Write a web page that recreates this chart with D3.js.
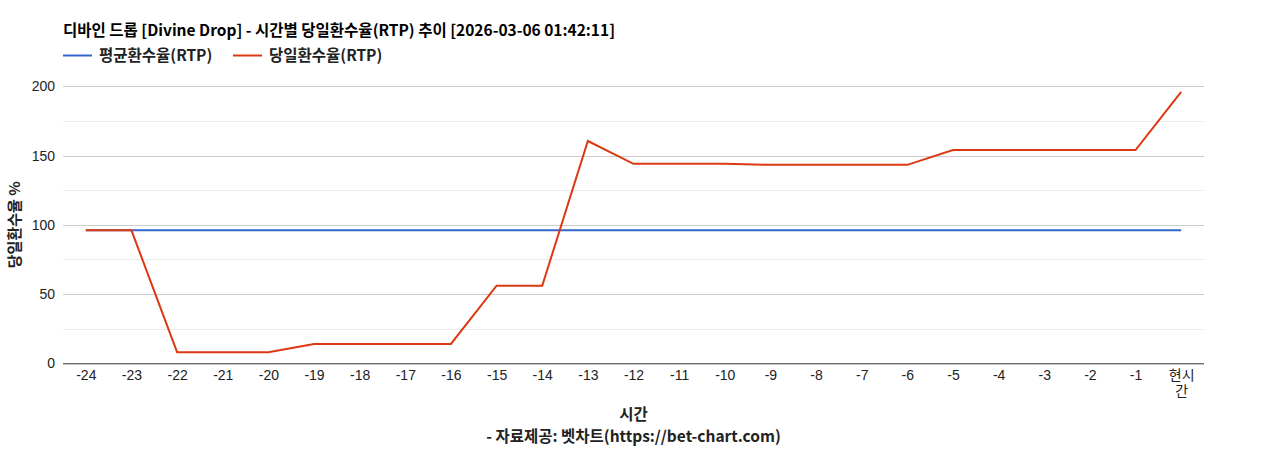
<!DOCTYPE html>
<html>
<head>
<meta charset="utf-8">
<script src="https://cdn.jsdelivr.net/npm/d3@7"></script>
<style>
  body { margin: 0; background: #fff; }
  text { font-family: Arial, "Liberation Sans", "Noto Sans CJK KR", sans-serif; }
  .bold { font-family: "Noto Sans CJK KR", sans-serif; font-weight: bold; }
</style>
</head>
<body>
<svg id="chart" width="1268" height="450"></svg>
<script>
// chart data
var hours = ['-24','-23','-22','-21','-20','-19','-18','-17','-16','-15','-14','-13',
             '-12','-11','-10','-9','-8','-7','-6','-5','-4','-3','-2','-1','현시간'];
var avgRtp = [96,96,96,96,96,96,96,96,96,96,96,96,96,96,96,96,96,96,96,96,96,96,96,96,96];
var dayRtp = [96,96,8,8,8,14,14,14,14,56,56,160.5,144,144,144,143.3,143.3,143.3,143.3,154,154,154,154,154,196];
var yTicks = [0,50,100,150,200];
var yMinor = [25,75,125,175];

var seriesNames = ['평균환수율(RTP)', '당일환수율(RTP)'];
var colors = ['#3366cc', '#dc3912'];

var svg = d3.select('#chart');

var plotLeft = 63, plotRight = 1204, plotTop = 86.3, plotBottom = 363.3;

var x = d3.scalePoint().domain(hours).range([plotLeft, plotRight]).padding(0.5);
var y = d3.scaleLinear().domain([0, 200]).range([plotBottom, plotTop]);

// title
svg.append('text')
    .attr('class', 'bold')
    .attr('x', 63).attr('y', 36)
    .attr('font-size', 15.5).attr('fill', '#000')
    .text('디바인 드롭 [Divine Drop] - 시간별 당일환수율(RTP) 추이 [2026-03-06 01:42:11]');

// legend
var legendX = [63, 233];
seriesNames.forEach(function(name, i){
    svg.append('line')
        .attr('x1', legendX[i]).attr('x2', legendX[i] + 29)
        .attr('y1', 55.5).attr('y2', 55.5)
        .attr('stroke', colors[i]).attr('stroke-width', 2);
    svg.append('text')
        .attr('class', 'bold')
        .attr('x', legendX[i] + 36).attr('y', 61)
        .attr('font-size', 15.5).attr('fill', '#222')
        .text(name);
});

// gridlines
svg.append('g').selectAll('line').data(yMinor).enter().append('line')
    .attr('x1', plotLeft).attr('x2', plotRight)
    .attr('y1', function(d){ return Math.round(y(d)) + 0.5; })
    .attr('y2', function(d){ return Math.round(y(d)) + 0.5; })
    .attr('stroke', '#ebebeb');

svg.append('g').selectAll('line').data(yTicks.slice(1)).enter().append('line')
    .attr('x1', plotLeft).attr('x2', plotRight)
    .attr('y1', function(d){ return Math.round(y(d)) + 0.5; })
    .attr('y2', function(d){ return Math.round(y(d)) + 0.5; })
    .attr('stroke', '#cccccc');

// y axis labels
var yAxis = d3.axisLeft(y).tickValues(yTicks).tickSize(0).tickPadding(8);
var gy = svg.append('g').attr('transform', 'translate(' + plotLeft + ',0)').call(yAxis);
gy.select('.domain').remove();
gy.selectAll('text').attr('font-size', 14).attr('fill', '#222')
    .style('font-family', 'Arial, "Liberation Sans", sans-serif');

// x axis
var xAxis = d3.axisBottom(x).tickSize(0).tickPadding(7);
var gx = svg.append('g').attr('transform', 'translate(0,' + plotBottom + ')').call(xAxis);
gx.select('.domain').attr('stroke', '#333').attr('d', 'M' + plotLeft + ',0.5H' + plotRight);
gx.selectAll('text').attr('font-size', 14).attr('fill', '#222')
    .style('font-family', 'Arial, "Liberation Sans", "Noto Sans CJK KR", sans-serif')
    .each(function(d){
        if (d === '현시간') {
            var t = d3.select(this);
            t.text(null);
            t.append('tspan').attr('x', 0).attr('dy', '0.71em').text('현시');
            t.append('tspan').attr('x', 0).attr('dy', '1.15em').text('간');
            t.attr('dy', null);
        }
    });

// lines
var line = d3.line()
    .x(function(d, i){ return x(hours[i]); })
    .y(function(d){ return y(d); });

[avgRtp, dayRtp].forEach(function(vals, i){
    svg.append('path')
        .datum(vals)
        .attr('d', line)
        .attr('fill', 'none')
        .attr('stroke', colors[i])
        .attr('stroke-width', 2);
});

// axis titles
svg.append('text')
    .attr('class', 'bold')
    .attr('transform', 'translate(20,' + ((plotTop + plotBottom) / 2) + ') rotate(-90)')
    .attr('text-anchor', 'middle')
    .attr('font-size', 15).attr('fill', '#222')
    .text('당일환수율 %');

svg.append('text')
    .attr('class', 'bold')
    .attr('x', (plotLeft + plotRight) / 2).attr('y', 420)
    .attr('text-anchor', 'middle')
    .attr('font-size', 15.5).attr('fill', '#222')
    .text('시간');

svg.append('text')
    .attr('class', 'bold')
    .attr('x', (plotLeft + plotRight) / 2).attr('y', 442)
    .attr('text-anchor', 'middle')
    .attr('font-size', 15.5).attr('fill', '#222')
    .text('- 자료제공: 벳차트(https://bet-chart.com)');
</script>
</body>
</html>
